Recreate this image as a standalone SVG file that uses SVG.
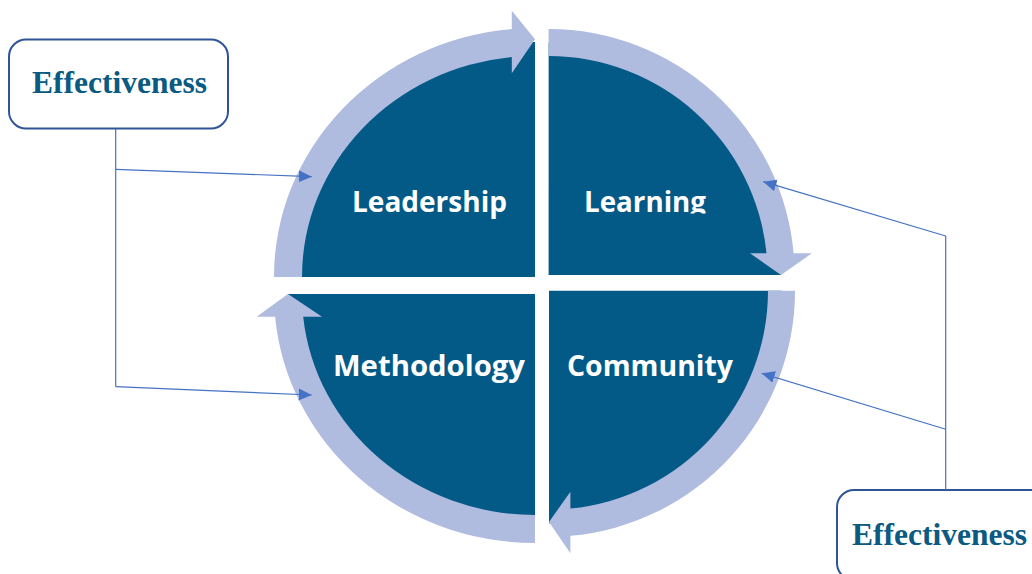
<svg xmlns="http://www.w3.org/2000/svg" width="1032" height="574" viewBox="0 0 1032 574">
<style>
.dark{fill:#035A87}
.ring{fill:#AFBBDF}
.lbl{font-family:"Open Sans","Noto Sans",sans-serif;font-weight:700;font-size:29px;fill:#FFFFFF}
.box{fill:#FFFFFF;stroke:#2F5597;stroke-width:2}
.eff{font-family:"Liberation Serif","Times New Roman",serif;font-weight:700;font-size:31.5px;fill:#0A5A82}
.conn{fill:none;stroke:#4472C4;stroke-width:1.2}
</style>
<defs>
<marker id="ah" markerUnits="userSpaceOnUse" markerWidth="14" markerHeight="14" refX="13" refY="6" orient="auto">
<path d="M0,0 L13,6 L0,12 Z" fill="#4472C4"/>
</marker>
<clipPath id="clipLearn"><rect x="560" y="150" width="200" height="63.5"/></clipPath>
</defs>

<g id="leadership">
<path class="dark" d="M535,277 L288,277 A247 235 0 0 1 535,42 Z"/>
<path class="ring" d="M274,277 A261 249 0 0 1 511.8,29 L511.8,10.7 L535,39.3 L511.8,73.3 L511.8,57.1 A233 221 0 0 0 302,277 Z"/>
<text class="lbl" x="352" y="212" textLength="155" lengthAdjust="spacingAndGlyphs">Leadership</text>
</g>

<g id="learning">
<path class="dark" d="M548.6,275 L548.6,42.5 A232.5 232.5 0 0 1 781.1,275 Z"/>
<path class="ring" d="M548.6,29 A246 246 0 0 1 793.6,253.3 L811.8,253.3 L781,275 L750,253.3 L766.5,253.3 A219 219 0 0 0 548.6,56 Z"/>
<text class="lbl" x="584" y="212" textLength="122" lengthAdjust="spacingAndGlyphs" clip-path="url(#clipLearn)">Learning</text>
</g>

<g id="community">
<path class="dark" d="M549,290.7 L781.5,290.7 A232.5 232.5 0 0 1 549,523.2 Z"/>
<path class="ring" d="M795,290.7 A246 246 0 0 1 570.4,535.8 L570.4,553.3 L549,522 L570.4,491.7 L570.4,508.6 A219 219 0 0 0 768,290.7 Z"/>
<text class="lbl" x="567" y="376" textLength="166" lengthAdjust="spacingAndGlyphs">Community</text>
</g>

<g id="methodology">
<path class="dark" d="M535,294 L535,529 A247 235 0 0 1 288,294 Z"/>
<path class="ring" d="M535,543 A261 249 0 0 1 275.1,316.7 L256.6,316.7 L288,294 L322,316.7 L303.2,316.7 A233 221 0 0 0 535,515 Z"/>
<text class="lbl" x="333" y="376" textLength="192" lengthAdjust="spacingAndGlyphs">Methodology</text>
</g>

<g id="effectiveness-left">
<rect class="box" x="9" y="39.5" width="219" height="89" rx="17" ry="17"/>
<text class="eff" x="32" y="93" textLength="175" lengthAdjust="spacingAndGlyphs">Effectiveness</text>
</g>

<g id="effectiveness-right">
<rect class="box" x="837" y="490" width="220" height="90" rx="17" ry="17"/>
<text class="eff" x="852" y="545" textLength="175" lengthAdjust="spacingAndGlyphs">Effectiveness</text>
</g>

<g id="connectors">
<path class="conn" d="M115.7,129 L115.7,386.7"/>
<path class="conn" d="M115.7,169.3 L311.7,176.7" marker-end="url(#ah)"/>
<path class="conn" d="M115.7,386.7 L311.7,395" marker-end="url(#ah)"/>
<path class="conn" d="M945.7,236 L945.7,490"/>
<path class="conn" d="M945.7,236 L763.3,181.7" marker-end="url(#ah)"/>
<path class="conn" d="M945.7,429.3 L761.7,373.3" marker-end="url(#ah)"/>
</g>
</svg>
